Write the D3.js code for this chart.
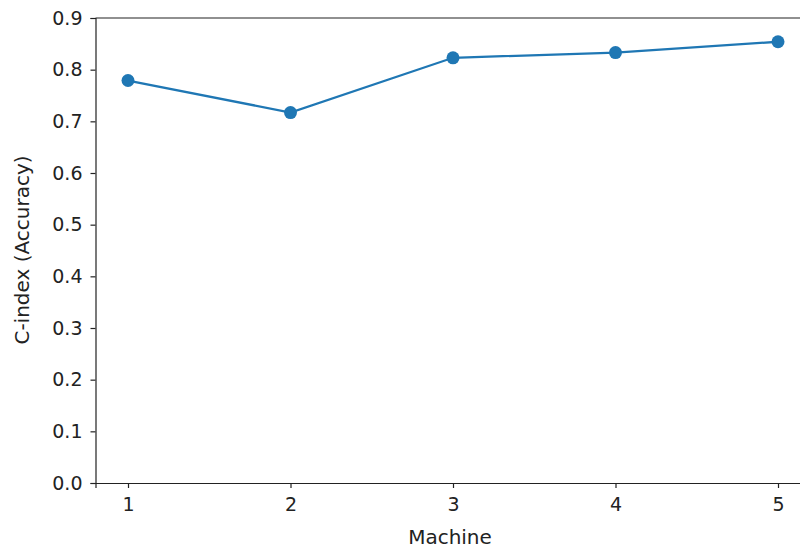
<!DOCTYPE html>
<html><head><meta charset="utf-8">
<script src="https://cdn.jsdelivr.net/npm/d3@7"></script>
<style>body{margin:0;background:#fff}svg{display:block}</style>
</head><body>
<script>
const machines = [1, 2, 3, 4, 5];
const cindex = [0.779, 0.717, 0.823, 0.833, 0.854];
const yTicks = [0.0, 0.1, 0.2, 0.3, 0.4, 0.5, 0.6, 0.7, 0.8, 0.9];

(function () {
const W = 800, H = 548;
const svg = d3.select("body").append("svg").attr("width", W).attr("height", H);
const mLeft = 95.5, mTop = 18, mBottom = 483, mRight = 810.5;
const x = d3.scaleLinear().domain([0.8, 5.2]).range([mLeft, mRight]);
const y = d3.scaleLinear().domain([0, 0.9]).range([mBottom, mTop]);
const font = "DejaVu Sans, sans-serif";

const xAxis = svg.append("g").attr("transform", `translate(0,${mBottom})`)
  .call(d3.axisBottom(x).tickValues(machines).tickFormat(d3.format("d")).tickSizeOuter(0).tickSize(5).tickPadding(10));
const yAxis = svg.append("g").attr("transform", `translate(${mLeft},0)`)
  .call(d3.axisLeft(y).tickValues(yTicks).tickFormat(d3.format(".1f")).tickSizeOuter(0).tickSize(5).tickPadding(8));
[xAxis, yAxis].forEach(a => {
  a.selectAll("path.domain").attr("stroke", "#222").attr("stroke-width", 1.2);
  a.selectAll(".tick line").attr("stroke", "#222").attr("stroke-width", 1.2);
  a.selectAll("text").attr("font-family", font).attr("font-size", 19).attr("fill", "#222");
});
svg.append("line").attr("x1", mLeft).attr("x2", mRight).attr("y1", mTop).attr("y2", mTop)
  .attr("stroke", "#222").attr("stroke-width", 1.2);
svg.append("line").attr("x1", mRight).attr("x2", mRight).attr("y1", mTop).attr("y2", mBottom)
  .attr("stroke", "#222").attr("stroke-width", 1.2);

const pts = machines.map((m, i) => [m, cindex[i]]);
svg.append("path").datum(pts)
  .attr("d", d3.line().x(d => x(d[0])).y(d => y(d[1])))
  .attr("fill", "none").attr("stroke", "#1f77b4").attr("stroke-width", 2.3);
svg.selectAll("circle.pt").data(pts).enter().append("circle")
  .attr("cx", d => x(d[0])).attr("cy", d => y(d[1])).attr("r", 6.5).attr("fill", "#1f77b4");

svg.append("text").attr("x", 450).attr("y", 544).attr("text-anchor", "middle")
  .attr("font-family", font).attr("font-size", 20).attr("fill", "#222").text("Machine");
svg.append("text").attr("transform", `translate(29,250) rotate(-90)`)
  .attr("text-anchor", "middle").attr("font-family", font).attr("font-size", 20).attr("fill", "#222")
  .text("C-index (Accuracy)");
})();
</script>
</body></html>
